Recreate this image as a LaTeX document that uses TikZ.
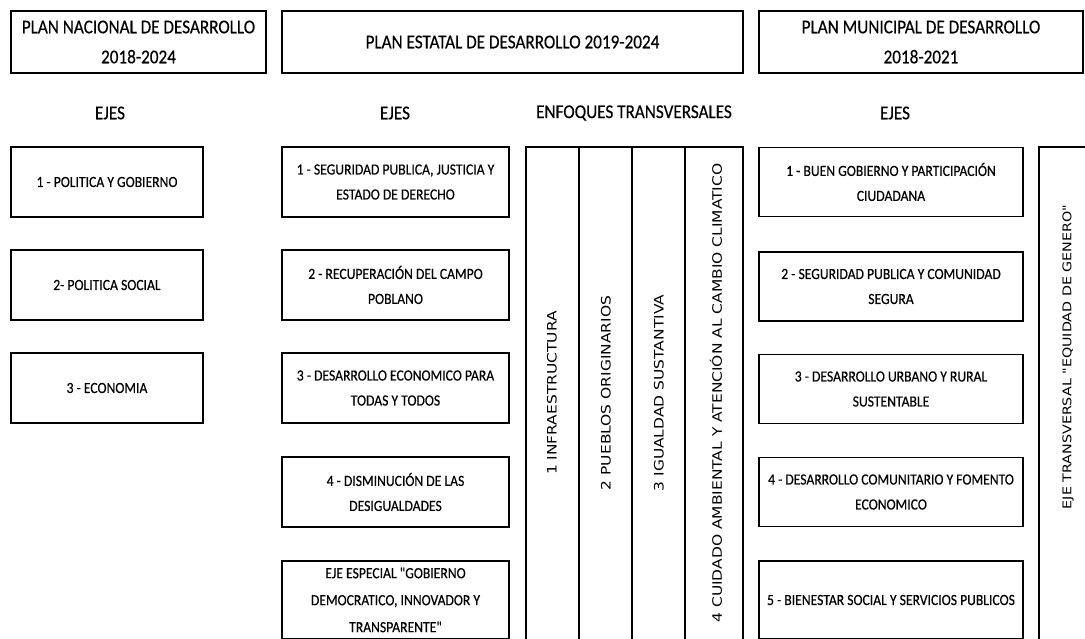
\documentclass[tikz,border=0pt]{standalone}
\usepackage{fontspec}
\setmainfont{Carlito}[FakeStretch=0.88, FakeBold=0.4, Ligatures=TeXOff]
\newfontfamily\vfont{DejaVu Sans}[FakeStretch=1.19, Ligatures=TeXOff]
\begin{document}
\begin{tikzpicture}[x=1pt,y=-1pt,
  box/.style={draw, line width=1.8pt, align=center, inner sep=0pt},
  titlebox/.style={box, font=\fontsize{19.5}{30}\selectfont},
  item/.style={box, font=\fontsize{15.5}{25}\selectfont},
  item3/.style={box, font=\fontsize{15.5}{27}\selectfont},
  head/.style={font=\fontsize{19.5}{24}\selectfont, inner sep=0pt},
  rule/.style={line width=1.8pt},
  vtext/.style={rotate=90, inner sep=0pt, font=\vfont\fontsize{13}{16}\selectfont},
  lw/.style={minimum width=192pt, minimum height=70pt},
  mw/.style={minimum width=227pt, minimum height=70pt},
  rw/.style={minimum width=264pt, minimum height=69pt}]
\useasboundingbox (0,0) rectangle (1085,638);
\clip (0,0) rectangle (1085,638);
% titles
\node[titlebox, minimum width=255pt, minimum height=62pt] (t1) at (138.5,42) {PLAN NACIONAL DE DESARROLLO\\2018-2024};
\node[titlebox, minimum width=461pt, minimum height=62pt] (t2) at (512.5,42) {PLAN ESTATAL DE DESARROLLO 2019-2024};
\node[titlebox, minimum width=324pt, minimum height=62pt] (t3) at (921,42) {PLAN MUNICIPAL DE DESARROLLO\\2018-2021};
% headers
\node[head] (h1) at (110,113) {EJES};
\node[head] (h2) at (395,113) {EJES};
\node[head] (h3) at (634,113) {ENFOQUES TRANSVERSALES};
\node[head] (h4) at (895,113) {EJES};
% national
\node[item, lw] (n1) at (107,182) {1 - POLITICA Y GOBIERNO};
\node[item, lw] (n2) at (107,285) {2- POLITICA SOCIAL};
\node[item, lw] (n3) at (107,388) {3 - ECONOMIA};
% state
\node[item, mw] (s1) at (395.5,182) {1 - SEGURIDAD PUBLICA, JUSTICIA Y\\ESTADO DE DERECHO};
\node[item, mw] (s2) at (395.5,285) {2 - RECUPERACIÓN DEL CAMPO\\POBLANO};
\node[item, mw] (s3) at (395.5,388) {3 - DESARROLLO ECONOMICO PARA\\TODAS Y TODOS};
\node[item, mw] (s4) at (395.5,492) {4 - DISMINUCIÓN DE LAS\\DESIGUALDADES};
\node[item3, minimum width=227pt, minimum height=78pt] (s5) at (395.5,600) {EJE ESPECIAL "GOBIERNO\\DEMOCRATICO, INNOVADOR Y\\TRANSPARENTE"};
% transversal table
\draw[rule] (526,645) -- (526,147) -- (743,147) -- (743,645);
\draw[rule] (579,147) -- (579,645);
\draw[rule] (632,147) -- (632,645);
\draw[rule] (685,147) -- (685,645);
\node[vtext] (e1) at (552,393) {1 INFRAESTRUCTURA};
\node[vtext] (e2) at (606,393) {2 PUEBLOS ORIGINARIOS};
\node[vtext] (e3) at (659,393) {3 IGUALDAD SUSTANTIVA};
\node[vtext] (e4) at (716,393) {4 CUIDADO AMBIENTAL Y ATENCIÓN AL CAMBIO CLIMATICO};
% municipal
\node[item, rw] (m1) at (891,182) {1 - BUEN GOBIERNO Y PARTICIPACIÓN\\CIUDADANA};
\node[item, rw] (m2) at (891,286.5) {2 - SEGURIDAD PUBLICA Y COMUNIDAD\\SEGURA};
\node[item, rw] (m3) at (891,389) {3 - DESARROLLO URBANO Y RURAL\\SUSTENTABLE};
\node[item, rw] (m4) at (891,492) {4 - DESARROLLO COMUNITARIO Y FOMENTO\\ECONOMICO};
\node[item, minimum width=264pt, minimum height=78pt] (m5) at (891,600) {5 - BIENESTAR SOCIAL Y SERVICIOS PUBLICOS};
% municipal transversal axis
\draw[rule] (1039,645) -- (1039,147) -- (1090,147);
\node[vtext, font=\vfont\fontsize{12}{15}\selectfont] (g) at (1068,357) {EJE TRANSVERSAL "EQUIDAD DE GENERO"};
\end{tikzpicture}
\end{document}
